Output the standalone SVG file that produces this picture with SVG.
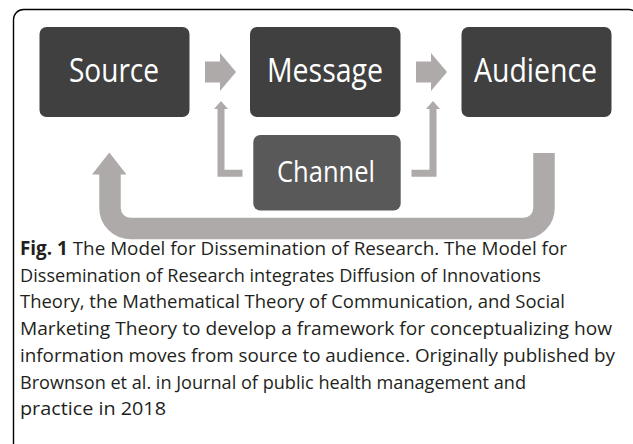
<svg xmlns="http://www.w3.org/2000/svg" width="633" height="444" viewBox="0 0 633 444">
<style>
.box{fill:#404040}
.chan{fill:#595959}
.lbl{font-family:"Open Sans","Noto Sans",sans-serif;fill:#ffffff;text-anchor:middle}
.arr{fill:#aeaaaa}
.line{fill:none;stroke:#aeaaaa}
.cap{font-family:"Open Sans","Noto Sans",sans-serif;font-size:19px;fill:#231f20}
</style>
<rect x="13.5" y="9.5" width="625" height="460" rx="10" fill="#ffffff" stroke="#000000" stroke-width="1.4"/>
<g id="connectors">
<polygon class="arr" points="205,61.5 220,61.5 220,53 236,72 220,91 220,82.5 205,82.5"/>
<polygon class="arr" points="416,61.5 431,61.5 431,53 447,72 431,91 431,82.5 416,82.5"/>
<path class="line" stroke-width="7" d="M242.5,173.3 H221 V108"/>
<polygon class="arr" points="214,109 228,109 221,101"/>
<path class="line" stroke-width="7" d="M411.5,173.3 H433 V108"/>
<polygon class="arr" points="426,109 440,109 433,101"/>
<path class="line" stroke-width="21.5" d="M110,173 V208 A20.5,20.5 0 0 0 130.5,228.5 H523.5 A20.5,20.5 0 0 0 544,208 V153"/>
<polygon class="arr" points="92,174.5 126.5,174.5 109.3,152.5"/>
</g>
<g id="source">
<rect class="box" x="39.5" y="27" width="150" height="90" rx="7"/>
<text class="lbl" x="114" y="82" font-size="32" textLength="90" lengthAdjust="spacingAndGlyphs">Source</text>
</g>
<g id="message">
<rect class="box" x="250" y="27" width="150.5" height="90" rx="7"/>
<text class="lbl" x="325" y="82" font-size="32" textLength="116" lengthAdjust="spacingAndGlyphs">Message</text>
</g>
<g id="audience">
<rect class="box" x="461.5" y="27" width="150" height="90" rx="7"/>
<text class="lbl" x="535.5" y="82" font-size="32" textLength="123" lengthAdjust="spacingAndGlyphs">Audience</text>
</g>
<g id="channel">
<rect class="chan" x="253.3" y="135" width="147.4" height="75.5" rx="7"/>
<text class="lbl" x="326" y="182" font-size="30" textLength="98" lengthAdjust="spacingAndGlyphs">Channel</text>
</g>
<g id="caption">
<text class="cap" x="20" y="255" textLength="547" lengthAdjust="spacingAndGlyphs"><tspan font-weight="bold">Fig. 1</tspan> The Model for Dissemination of Research. The Model for</text>
<text class="cap" x="20" y="281.7" textLength="521" lengthAdjust="spacingAndGlyphs">Dissemination of Research integrates Diffusion of Innovations</text>
<text class="cap" x="20" y="308.4" textLength="545" lengthAdjust="spacingAndGlyphs">Theory, the Mathematical Theory of Communication, and Social</text>
<text class="cap" x="20" y="335.1" textLength="592" lengthAdjust="spacingAndGlyphs">Marketing Theory to develop a framework for conceptualizing how</text>
<text class="cap" x="20" y="361.8" textLength="595" lengthAdjust="spacingAndGlyphs">information moves from source to audience. Originally published by</text>
<text class="cap" x="20" y="388.5" textLength="506" lengthAdjust="spacingAndGlyphs">Brownson et al. in Journal of public health management and</text>
<text class="cap" x="20" y="415.2" textLength="146" lengthAdjust="spacingAndGlyphs">practice in 2018</text>
</g>
</svg>
